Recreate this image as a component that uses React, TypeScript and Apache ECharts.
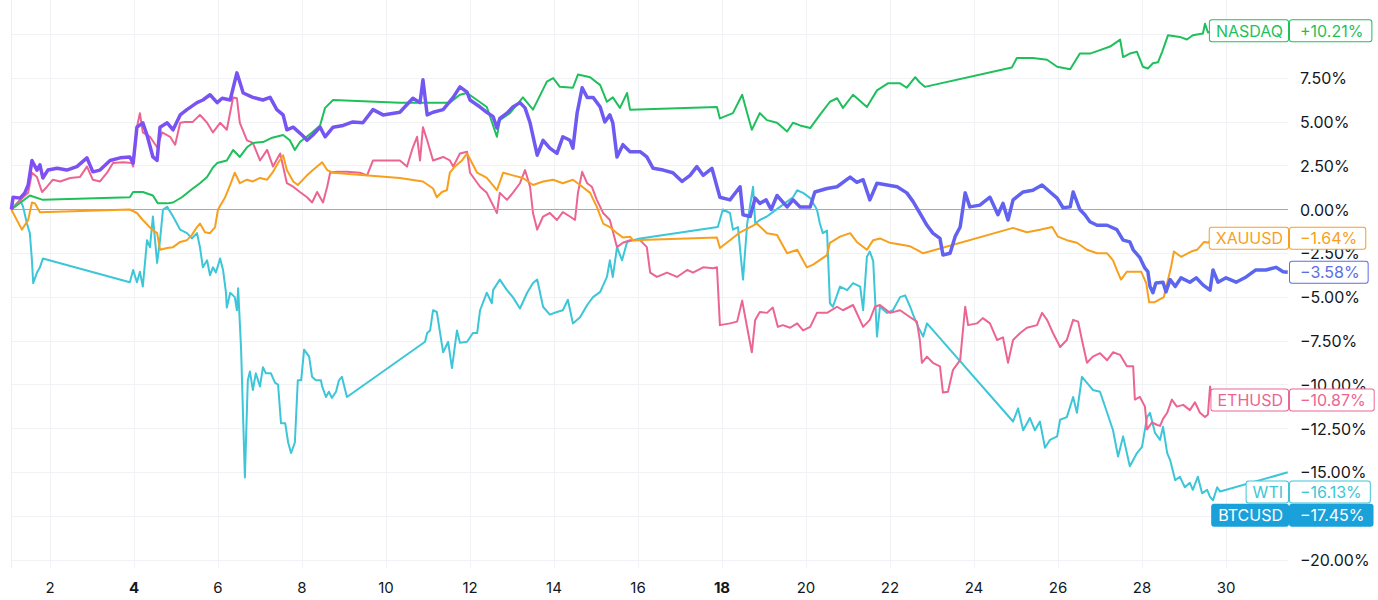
import React, { useEffect, useRef } from "react";
import * as echarts from "echarts";

const dayTicks = [2, 4, 6, 8, 10, 12, 14, 16, 18, 20, 22, 24, 26, 28, 30];
const boldDays = [4, 18];
const pctTicks = [-20, -17.5, -15, -12.5, -10, -7.5, -5, -2.5, 0, 2.5, 5, 7.5, 10];
const pctLabels = [-20, -17.5, -15, -12.5, -10, -7.5, -5, -2.5, 0, 2.5, 5, 7.5];

const nasdaq = [[1.08,0],[1.52,0.8],[1.83,0.55],[3.9,0.7],[3.98,1.0],[4.21,1.0],[4.45,0.8],[4.57,0.35],[4.79,0.35],[4.93,0.4],[5.14,0.7],[5.4,1.2],[5.57,1.5],[5.74,1.85],[5.88,2.4],[5.98,2.65],[6.21,2.8],[6.36,3.4],[6.52,3.0],[6.69,3.55],[6.83,3.8],[7.07,3.85],[7.29,4.1],[7.55,4.25],[7.71,3.95],[7.83,3.4],[7.95,3.85],[8.24,4.4],[8.43,4.8],[8.55,5.8],[8.74,6.25],[10.33,6.1],[11.52,6.1],[11.76,6.55],[11.93,6.65],[12.4,5.85],[12.64,4.15],[12.71,5.1],[12.95,5.5],[13.26,6.4],[13.5,5.7],[13.83,7.3],[13.98,7.5],[14.14,7.0],[14.45,6.95],[14.57,7.7],[14.86,7.55],[15.1,7.1],[15.26,6.15],[15.4,6.4],[15.57,5.8],[15.74,6.65],[15.81,5.7],[17.88,5.85],[17.95,5.2],[18.26,5.5],[18.48,6.55],[18.6,5.5],[18.71,4.55],[18.9,5.5],[19.07,5.1],[19.31,4.95],[19.55,4.45],[19.69,4.95],[19.86,4.8],[20.1,4.65],[20.33,5.4],[20.57,6.15],[20.74,6.35],[20.88,5.8],[21.12,6.55],[21.45,5.85],[21.69,6.8],[21.95,7.2],[22.24,7.2],[22.4,6.95],[22.6,7.55],[22.71,7.25],[22.83,7.0],[24.9,8.1],[25.02,8.65],[25.4,8.65],[25.74,8.55],[25.98,8.15],[26.29,8.0],[26.52,8.9],[26.76,8.9],[27.0,9.1],[27.24,9.3],[27.48,9.7],[27.55,8.7],[27.71,8.9],[27.88,9.0],[28.02,8.15],[28.14,8.05],[28.26,8.35],[28.38,8.4],[28.48,9.0],[28.62,9.95],[28.9,9.85],[29.07,9.7],[29.21,9.95],[29.45,10.05],[29.5,10.6],[29.57,10.1],[29.67,10.21]];

const xauusd = [[1.08,0],[1.33,-1.15],[1.48,-0.6],[1.57,0.4],[1.64,0.35],[1.76,-0.15],[3.9,0],[4.07,-0.2],[4.21,-0.6],[4.43,-1.15],[4.55,-1.35],[4.62,-2.3],[4.79,-2.2],[4.93,-2.15],[5.1,-1.85],[5.26,-1.75],[5.38,-1.45],[5.5,-1.0],[5.57,-0.8],[5.69,-1.3],[5.81,-1.35],[5.93,-1.0],[6.0,0],[6.17,0.7],[6.29,1.4],[6.4,2.1],[6.52,1.5],[6.69,1.7],[6.83,1.6],[7.0,1.8],[7.17,1.7],[7.31,2.15],[7.43,2.65],[7.55,3.1],[7.64,2.25],[7.79,1.6],[7.9,1.4],[8.12,1.95],[8.26,2.25],[8.48,2.7],[8.6,2.25],[8.74,2.1],[10.33,1.8],[10.88,1.6],[11.12,1.2],[11.21,0.7],[11.33,1.0],[11.45,1.1],[11.52,2.1],[11.64,2.45],[11.81,2.8],[11.93,3.2],[12.17,2.1],[12.4,1.8],[12.64,1.1],[12.79,2.1],[13.02,1.95],[13.26,1.8],[13.5,1.4],[13.74,1.6],[13.98,1.7],[14.21,1.5],[14.45,1.7],[14.62,1.4],[14.86,0.95],[15.02,0.15],[15.17,-0.8],[15.33,-1.0],[15.5,-1.35],[15.64,-1.6],[15.81,-1.55],[15.88,-1.75],[17.88,-1.6],[17.95,-2.2],[18.19,-1.75],[18.43,-1.3],[18.67,-1.0],[18.83,-0.8],[19.07,-1.35],[19.31,-1.45],[19.55,-2.5],[19.79,-2.3],[20.02,-3.3],[20.17,-3.15],[20.5,-2.6],[20.57,-1.9],[20.81,-1.55],[21.05,-1.35],[21.21,-1.85],[21.45,-2.3],[21.6,-1.75],[21.76,-1.65],[22.0,-1.9],[22.24,-2.0],[22.48,-2.1],[22.64,-2.3],[22.79,-2.5],[24.93,-1.05],[25.26,-1.3],[25.57,-1.15],[25.86,-1.0],[26.0,-1.55],[26.21,-1.75],[26.45,-1.9],[26.69,-2.3],[26.93,-2.5],[27.17,-2.5],[27.31,-2.9],[27.4,-3.45],[27.5,-4.0],[27.64,-3.55],[27.98,-3.55],[28.1,-4.2],[28.17,-5.3],[28.29,-5.3],[28.52,-5.0],[28.6,-4.2],[28.69,-3.3],[28.76,-2.4],[28.93,-2.7],[29.17,-2.4],[29.31,-2.3],[29.48,-1.85],[29.6,-1.9],[29.67,-1.2],[29.71,-1.64]];

const mainSeries = [[1.08,0],[1.12,0.7],[1.29,0.65],[1.4,0.95],[1.48,1.4],[1.57,2.8],[1.69,2.25],[1.76,2.55],[1.83,1.8],[1.95,2.25],[2.17,2.35],[2.4,2.25],[2.64,2.45],[2.88,2.95],[3.02,2.15],[3.19,2.25],[3.43,2.8],[3.67,2.95],[3.9,3.0],[3.98,2.65],[4.07,4.7],[4.21,4.95],[4.31,4.25],[4.45,3.0],[4.55,2.8],[4.62,4.7],[4.79,4.95],[4.93,4.55],[5.1,5.4],[5.26,5.7],[5.5,6.1],[5.64,6.25],[5.81,6.55],[5.98,6.1],[6.1,6.35],[6.29,6.25],[6.45,7.8],[6.6,6.65],[6.83,6.4],[7.07,6.25],[7.24,6.4],[7.4,5.7],[7.55,5.4],[7.64,4.55],[7.79,4.7],[8.0,4.25],[8.12,3.95],[8.26,4.25],[8.43,4.7],[8.55,4.15],[8.74,4.7],[8.98,4.8],[9.21,5.0],[9.45,4.95],[9.69,5.7],[9.93,5.4],[10.33,5.55],[10.64,6.35],[10.81,6.1],[10.88,7.4],[10.98,5.4],[11.12,5.55],[11.36,5.7],[11.6,6.4],[11.76,7.0],[11.93,6.7],[12.0,6.25],[12.24,5.85],[12.4,5.55],[12.55,5.3],[12.64,4.65],[12.71,5.2],[12.88,5.5],[13.02,5.85],[13.19,6.1],[13.31,5.8],[13.43,4.95],[13.6,3.1],[13.74,3.95],[13.9,3.5],[14.07,3.2],[14.21,4.15],[14.38,3.95],[14.45,3.5],[14.55,5.5],[14.67,6.95],[14.79,6.4],[14.93,6.4],[15.1,5.85],[15.21,5.0],[15.33,5.4],[15.4,4.95],[15.5,3.0],[15.64,3.7],[15.81,3.3],[16.05,3.3],[16.21,3.0],[16.36,2.35],[16.6,2.25],[16.83,2.1],[17.05,1.6],[17.24,1.95],[17.4,2.45],[17.55,1.95],[17.76,2.35],[17.95,0.7],[18.19,0.55],[18.43,1.3],[18.5,-0.3],[18.67,-0.4],[18.79,0.65],[18.9,0.35],[19.05,0.55],[19.17,0],[19.31,0.8],[19.55,0.15],[19.69,0.55],[19.86,0.15],[20.1,0.15],[20.21,1.0],[20.5,1.2],[20.74,1.3],[21.05,1.85],[21.21,1.55],[21.36,1.7],[21.52,0.55],[21.69,1.5],[21.93,1.4],[22.17,1.3],[22.4,0.95],[22.55,0.45],[22.71,-0.2],[22.88,-0.9],[23.02,-1.35],[23.19,-1.65],[23.26,-2.6],[23.43,-2.5],[23.55,-1.55],[23.67,-1.0],[23.79,0.95],[23.9,0.15],[24.14,0.25],[24.38,0.7],[24.57,-0.3],[24.69,0.35],[24.81,-0.6],[24.93,0.55],[25.17,1.0],[25.4,1.1],[25.62,1.4],[25.81,1.0],[25.98,0.65],[26.12,0.1],[26.29,0.15],[26.36,1.0],[26.52,0],[26.64,-0.3],[26.76,-0.7],[26.93,-0.9],[27.17,-0.9],[27.4,-1.15],[27.55,-1.75],[27.71,-1.85],[27.79,-2.3],[27.95,-2.75],[28.07,-3.35],[28.14,-3.55],[28.19,-4.4],[28.26,-4.75],[28.33,-4.2],[28.5,-4.15],[28.57,-4.7],[28.67,-4.0],[28.79,-4.4],[28.93,-3.9],[29.14,-4.15],[29.29,-3.9],[29.45,-4.3],[29.62,-4.6],[29.69,-3.45],[29.81,-4.15],[30.0,-3.9],[30.24,-4.15],[30.48,-3.85],[30.71,-3.45],[30.95,-3.45],[31.19,-3.3],[31.36,-3.55],[31.47,-3.58]];

const ethusd = [[1.08,0],[1.21,0.35],[1.36,0.7],[1.48,0.95],[1.57,2.1],[1.69,1.85],[1.81,1.0],[1.93,1.3],[2.07,1.7],[2.24,1.6],[2.48,1.8],[2.71,1.85],[2.88,2.45],[3.02,1.7],[3.19,1.6],[3.36,2.1],[3.5,2.65],[3.74,2.7],[3.95,2.65],[3.98,2.45],[4.07,4.7],[4.14,5.5],[4.21,4.4],[4.38,4.15],[4.55,3.55],[4.67,4.4],[4.86,4.15],[4.98,3.7],[5.1,4.95],[5.21,5.0],[5.4,5.0],[5.57,5.4],[5.74,4.95],[5.88,4.4],[6.05,4.95],[6.21,4.55],[6.36,6.4],[6.45,6.35],[6.52,4.95],[6.69,3.95],[6.83,3.8],[7.0,2.8],[7.17,3.4],[7.31,2.45],[7.48,3.2],[7.64,1.5],[7.79,1.3],[7.95,1.0],[8.12,0.7],[8.24,0.4],[8.36,1.0],[8.5,0.4],[8.6,1.3],[8.67,2.1],[8.83,2.15],[9.07,2.15],[9.38,2.1],[9.55,1.95],[9.69,2.8],[10.02,2.8],[10.33,2.8],[10.5,2.45],[10.64,3.55],[10.74,4.15],[10.81,2.8],[10.88,4.7],[10.98,3.95],[11.12,2.8],[11.36,3.0],[11.52,2.8],[11.6,2.45],[11.76,3.2],[11.93,3.3],[12.0,2.1],[12.24,1.3],[12.4,0.95],[12.64,-0.2],[12.71,0.95],[12.88,0.55],[13.02,0.95],[13.19,1.5],[13.31,2.25],[13.43,1.3],[13.5,-0.2],[13.6,-1.15],[13.74,-0.4],[13.9,-0.2],[14.07,-0.6],[14.21,-0.15],[14.38,-0.4],[14.5,-0.6],[14.57,0.95],[14.67,2.15],[14.79,1.5],[14.9,1.3],[15.02,0.55],[15.17,-0.2],[15.33,-0.6],[15.5,-2.15],[15.64,-1.9],[15.81,-1.75],[16.05,-1.75],[16.21,-2.15],[16.29,-3.6],[16.45,-3.85],[16.69,-3.6],[16.93,-3.85],[17.17,-3.45],[17.31,-3.6],[17.55,-3.3],[17.79,-3.35],[17.88,-3.3],[17.95,-6.6],[18.19,-6.5],[18.36,-6.4],[18.48,-5.2],[18.6,-6.75],[18.71,-8.15],[18.79,-6.3],[18.9,-5.85],[19.07,-5.9],[19.21,-5.6],[19.33,-6.7],[19.45,-6.6],[19.62,-6.75],[19.79,-6.5],[19.93,-6.9],[20.1,-6.7],[20.26,-5.9],[20.5,-5.9],[20.74,-5.55],[20.88,-5.75],[21.12,-5.45],[21.36,-6.7],[21.52,-6.3],[21.64,-5.55],[21.76,-5.45],[22.0,-5.9],[22.24,-5.75],[22.48,-6.15],[22.64,-6.4],[22.71,-7.45],[22.76,-8.75],[22.88,-8.4],[23.02,-8.75],[23.19,-8.95],[23.26,-10.45],[23.38,-10.4],[23.5,-9.15],[23.67,-8.6],[23.79,-5.55],[23.86,-6.6],[24.07,-6.5],[24.21,-6.2],[24.38,-6.5],[24.55,-7.45],[24.69,-7.3],[24.81,-8.75],[24.93,-7.45],[25.1,-7.05],[25.26,-6.75],[25.5,-6.6],[25.62,-5.9],[25.74,-6.3],[25.88,-7.05],[26.05,-7.85],[26.21,-7.45],[26.36,-6.3],[26.48,-6.4],[26.57,-7.45],[26.69,-8.75],[26.83,-8.4],[27.0,-8.2],[27.17,-8.6],[27.31,-8.15],[27.48,-8.3],[27.64,-8.95],[27.79,-8.95],[27.83,-10.85],[27.95,-10.7],[28.07,-11.25],[28.12,-12.55],[28.24,-12.15],[28.36,-12.3],[28.43,-12.35],[28.5,-11.95],[28.6,-11.6],[28.71,-10.85],[28.83,-11.25],[28.98,-11.15],[29.14,-11.45],[29.26,-11.0],[29.38,-11.6],[29.5,-11.85],[29.57,-11.7],[29.62,-10.1],[29.67,-10.87]];

const wti = [[1.08,0],[1.21,0.35],[1.29,0.55],[1.36,0.15],[1.45,-0.8],[1.52,-1.35],[1.57,-2.9],[1.6,-4.2],[1.69,-3.6],[1.76,-3.3],[1.83,-2.8],[3.9,-4.15],[3.98,-3.45],[4.07,-4.15],[4.14,-3.55],[4.21,-4.4],[4.31,-1.75],[4.38,-2.15],[4.45,-0.4],[4.55,-3.05],[4.62,-1.75],[4.69,0],[4.79,0.15],[4.93,-0.4],[5.1,-1.15],[5.26,-1.35],[5.38,-1.65],[5.5,-1.35],[5.57,-2.15],[5.64,-3.3],[5.74,-2.9],[5.81,-3.75],[5.88,-3.3],[5.95,-3.6],[6.05,-2.8],[6.12,-3.45],[6.19,-4.75],[6.21,-5.6],[6.29,-4.75],[6.4,-5.0],[6.45,-5.75],[6.48,-4.5],[6.55,-8.0],[6.64,-15.3],[6.71,-9.75],[6.76,-9.25],[6.83,-10.3],[6.9,-9.35],[7.0,-10.1],[7.07,-9.0],[7.14,-9.35],[7.26,-9.35],[7.36,-9.9],[7.43,-10.0],[7.5,-12.2],[7.6,-12.2],[7.67,-13.3],[7.74,-13.9],[7.83,-13.3],[7.9,-9.75],[7.98,-9.75],[8.05,-8.0],[8.17,-8.4],[8.24,-9.55],[8.33,-9.75],[8.45,-9.75],[8.48,-10.1],[8.57,-10.7],[8.64,-10.4],[8.71,-10.75],[8.81,-10.4],[8.88,-9.75],[8.95,-9.55],[9.07,-10.7],[10.93,-7.55],[10.98,-7.05],[11.05,-6.9],[11.12,-5.75],[11.21,-5.85],[11.36,-8.15],[11.48,-7.55],[11.57,-9.05],[11.69,-6.9],[11.76,-7.6],[11.93,-7.55],[12.07,-7.05],[12.17,-7.05],[12.24,-5.75],[12.4,-4.75],[12.52,-5.35],[12.55,-4.6],[12.71,-4.0],[12.88,-4.6],[13.02,-5.0],[13.19,-5.65],[13.36,-4.75],[13.5,-4.2],[13.6,-4.0],[13.74,-5.55],[13.9,-6.0],[14.07,-5.85],[14.21,-5.75],[14.33,-5.15],[14.45,-6.5],[14.62,-6.15],[14.79,-5.45],[14.93,-5.0],[15.1,-4.7],[15.26,-3.85],[15.33,-2.9],[15.4,-3.85],[15.5,-2.15],[15.62,-2.9],[15.74,-1.85],[15.88,-1.75],[16.05,-1.65],[17.9,-1.0],[18.02,0],[18.19,-0.2],[18.26,-1.15],[18.38,-1.0],[18.5,-4.0],[18.6,-0.8],[18.74,1.3],[18.79,-0.8],[18.9,-0.6],[19.07,-0.4],[19.21,-0.15],[19.38,0.15],[19.55,0.45],[19.69,0.7],[19.79,1.1],[19.93,0.95],[20.1,0.65],[20.26,0],[20.33,-0.8],[20.4,-1.35],[20.5,-1.2],[20.57,-5.35],[20.64,-5.55],[20.81,-4.4],[20.98,-4.6],[21.12,-4.2],[21.29,-4.4],[21.36,-5.75],[21.45,-2.7],[21.52,-2.4],[21.6,-2.95],[21.69,-7.25],[21.76,-5.55],[21.93,-5.9],[22.07,-5.75],[22.24,-5.0],[22.36,-4.9],[22.48,-5.55],[22.55,-6.0],[22.67,-6.7],[22.79,-7.25],[22.88,-6.5],[24.93,-12.1],[25.05,-11.35],[25.17,-12.6],[25.33,-11.9],[25.45,-12.6],[25.57,-12.1],[25.69,-13.6],[25.81,-13.15],[25.98,-12.95],[26.05,-12.0],[26.21,-11.85],[26.36,-10.7],[26.45,-11.6],[26.57,-9.55],[26.69,-9.9],[26.83,-10.3],[27.0,-10.4],[27.17,-11.6],[27.31,-12.6],[27.43,-14.1],[27.55,-12.95],[27.71,-14.65],[27.88,-13.9],[28.0,-13.55],[28.12,-11.85],[28.19,-11.6],[28.31,-12.75],[28.43,-13.15],[28.5,-12.4],[28.6,-13.9],[28.67,-14.3],[28.79,-15.45],[28.9,-15.25],[29.02,-15.85],[29.14,-15.6],[29.21,-16.0],[29.33,-15.25],[29.43,-16.2],[29.55,-16.0],[29.62,-16.4],[29.69,-16.6],[29.79,-15.85],[29.86,-16.1],[31.47,-15.0]];

const tagNames = ["NASDAQ", "XAUUSD", "", "ETHUSD", "WTI", "BTCUSD"];
const tagValues = [10.21, -1.64, -3.58, -10.87, -16.13, -17.45];
const tagColors = ["#1fbf5c", "#f7a01e", "#5b6ee6", "#ec6592", "#3cc6d8", "#1aa1da"];
const tagFilled = [false, false, false, false, false, true];

const FONT = "Inter, 'Noto Sans', sans-serif";
const fmtPct = (v: number) => {
  const a = Math.abs(v).toFixed(2) + "%";
  if (Math.abs(v) < 1e-9) return "0.00%";
  return v < 0 ? "\u2212" + a : a;
};
const fmtTag = (v: number) => (v < 0 ? "\u2212" : "+") + Math.abs(v).toFixed(2) + "%";

export default function App() {
  const ref = useRef<HTMLDivElement>(null);
  useEffect(() => {
    if (!ref.current) return;
    const chart = echarts.init(ref.current, null, { renderer: "svg" });
    const lineS = (name: string, data: number[][], color: any, width: number, z: number) => ({
      type: "line",
      name,
      data,
      showSymbol: false,
      symbol: "none",
      z,
      lineStyle: { color, width, join: "round" },
      itemStyle: { color },
    });
    chart.setOption({
      animation: false,
      textStyle: { fontFamily: FONT },
      grid: { left: 11, right: 90, top: 0, bottom: 32, containLabel: false },
      xAxis: {
        type: "value",
        min: 1.0714,
        max: 31.476,
        axisLine: { show: false },
        axisTick: { show: false, customValues: dayTicks },
        splitLine: { show: true, lineStyle: { color: "#f0f2f6", width: 1 } },
        axisLabel: {
          customValues: dayTicks,
          margin: 12,
          fontSize: 15,
          color: "#131722",
          fontFamily: FONT,
          formatter: (v: number) => (boldDays.indexOf(v) >= 0 ? "{b|" + v + "}" : String(v)),
          rich: { b: { fontWeight: "bold", fontSize: 15, color: "#131722", fontFamily: FONT } },
        },
      },
      yAxis: [
        {
          type: "value",
          position: "right",
          min: -20.462,
          max: 11.958,
          axisLine: { show: false },
          axisTick: { show: false, customValues: pctTicks },
          splitLine: { show: true, lineStyle: { color: "#f0f2f6", width: 1 } },
          axisLabel: {
            customValues: pctLabels,
            margin: 12,
            fontSize: 16,
            color: "#131722",
            fontFamily: FONT,
            formatter: (v: number) => fmtPct(v),
          },
        },
        {
          type: "value",
          position: "left",
          min: -20.462,
          max: 11.958,
          axisLine: { show: true, lineStyle: { color: "#eceef2" } },
          axisTick: { show: false },
          axisLabel: { show: false },
          splitLine: { show: false },
        },
      ],
      series: [
        {
          ...lineS("WTI", wti, "#3cc6d8", 2, 2),
          markLine: {
            silent: true,
            symbol: "none",
            label: { show: false },
            lineStyle: { color: "#a5a8b0", width: 1, type: "solid" },
            data: [{ yAxis: 0 }],
          },
        },
        lineS("ETHUSD", ethusd, "#ec6592", 2, 3),
        lineS("XAUUSD", xauusd, "#f7a01e", 2, 4),
        lineS("NASDAQ", nasdaq, "#1fbf5c", 2, 5),
        lineS(
          "BTCUSD",
          mainSeries,
          new echarts.graphic.LinearGradient(0, 0, 1, 0, [
            { offset: 0, color: "#7f4ff3" },
            { offset: 1, color: "#5868ee" },
          ]),
          3.5,
          6
        ),
      ],
    });

    const g: any[] = [];
    tagValues.forEach((val, i) => {
      const y = chart.convertToPixel({ yAxisIndex: 0 }, val) as number;
      const color = tagColors[i];
      const filled = tagFilled[i];
      const base = {
        fill: filled ? "#ffffff" : color,
        backgroundColor: filled ? color : "#ffffff",
        borderColor: color,
        borderWidth: 1,
        borderRadius: 2,
        font: "16px " + FONT,
        verticalAlign: "middle",
      };
      if (tagNames[i]) {
        g.push({
          type: "text",
          z: 100,
          x: 1288,
          y,
          style: { ...base, text: tagNames[i], align: "right", padding: [3, 5, 2, 6] },
        });
      }
      g.push({
        type: "text",
        z: 100,
        x: 1290,
        y,
        style: { ...base, text: fmtTag(val), align: "left", padding: [3, 8, 2, 10] },
      });
    });
    chart.setOption({ graphic: g });

    return () => chart.dispose();
  }, []);
  return (
    <div
      ref={ref}
      style={{ position: "fixed", left: 0, top: 0, width: 1378, height: 600, background: "#ffffff" }}
    />
  );
}
